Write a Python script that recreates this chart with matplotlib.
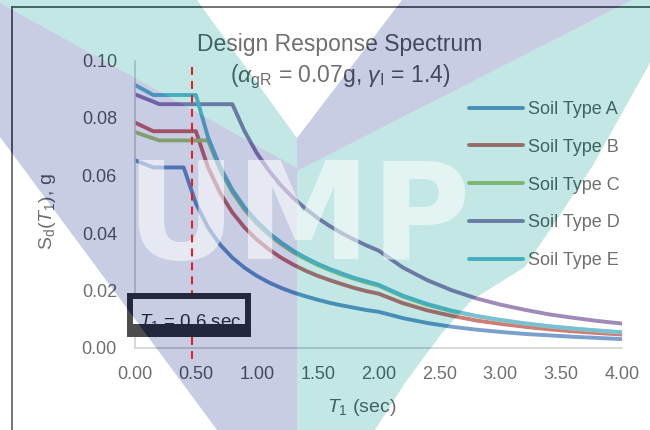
import matplotlib
matplotlib.use('Agg')
import matplotlib.pyplot as plt
import matplotlib.transforms as mtransforms
import numpy as np
from matplotlib import font_manager
from matplotlib.patches import Polygon, Rectangle, PathPatch
from matplotlib.path import Path
from matplotlib.lines import Line2D

# Period values (sec) and spectral accelerations (g)
period = [0, 0.15, 0.2, 0.3, 0.4, 0.5, 0.6, 0.7, 0.8, 0.9, 1.0, 1.1, 1.2, 1.3, 1.4, 1.5,
          1.6, 1.7, 1.8, 1.9, 2.0, 2.2, 2.4, 2.6, 2.8, 3.0, 3.2, 3.4, 3.6, 3.8, 4.0]
soil_a = [0.0653, 0.0628, 0.0628, 0.0628, 0.0628,
          0.0503, 0.0419, 0.0359, 0.0314, 0.0279, 0.0251, 0.0228, 0.0209, 0.0193, 0.0180,
          0.0168, 0.0157, 0.0148, 0.0140, 0.0132, 0.0126,
          0.0104, 0.0087, 0.0074, 0.0064, 0.0056, 0.0049, 0.0044, 0.0039, 0.0035, 0.0031]
soil_b = [0.0784, 0.0754, 0.0754, 0.0754, 0.0754,
          0.0754, 0.0628, 0.0539, 0.0471, 0.0419, 0.0377, 0.0343, 0.0314, 0.0290, 0.0269,
          0.0251, 0.0236, 0.0222, 0.0209, 0.0198, 0.0189,
          0.0156, 0.0131, 0.0112, 0.0096, 0.0084, 0.0074, 0.0065, 0.0058, 0.0052, 0.0047]
soil_c = [0.0751, 0.0729, 0.0722, 0.0722, 0.0722,
          0.0722, 0.0722, 0.0619, 0.0542, 0.0481, 0.0433, 0.0394, 0.0361, 0.0333, 0.0310,
          0.0289, 0.0271, 0.0255, 0.0241, 0.0228, 0.0217,
          0.0179, 0.0150, 0.0128, 0.0111, 0.0096, 0.0085, 0.0075, 0.0067, 0.0060, 0.0054]
soil_d = [0.0882, 0.0857, 0.0848, 0.0848, 0.0848,
          0.0848, 0.0848, 0.0848, 0.0848, 0.0754, 0.0678, 0.0617, 0.0565, 0.0522, 0.0485,
          0.0452, 0.0424, 0.0399, 0.0377, 0.0357, 0.0339,
          0.0280, 0.0236, 0.0201, 0.0173, 0.0151, 0.0133, 0.0117, 0.0105, 0.0094, 0.0085]
soil_e = [0.0915, 0.0880, 0.0880, 0.0880, 0.0880,
          0.0880, 0.0733, 0.0629, 0.0550, 0.0489, 0.0440, 0.0400, 0.0367, 0.0338, 0.0314,
          0.0293, 0.0275, 0.0259, 0.0244, 0.0232, 0.0220,
          0.0182, 0.0153, 0.0130, 0.0112, 0.0098, 0.0086, 0.0076, 0.0068, 0.0061, 0.0055]
series = [soil_a, soil_b, soil_c, soil_d, soil_e]
labels = ['Soil Type A', 'Soil Type B', 'Soil Type C', 'Soil Type D', 'Soil Type E']
colors = ['#4F81BD', '#C0504D', '#9BBB59', '#8064A2', '#4BACC6']

x_ticks = [0, 0.5, 1.0, 1.5, 2.0, 2.5, 3.0, 3.5, 4.0]
y_ticks = [0, 0.02, 0.04, 0.06, 0.08, 0.10]
marked_period = 0.47

# narrow Arial-like face if there is one, otherwise Liberation Sans
names = {f.name for f in font_manager.fontManager.ttflist}
MAIN = 'Liberation Sans Narrow' if 'Liberation Sans Narrow' in names else 'Liberation Sans'
plt.rcParams['font.family'] = [MAIN, 'DejaVu Sans']
plt.rcParams['mathtext.fontset'] = 'custom'
plt.rcParams['mathtext.rm'] = MAIN
plt.rcParams['mathtext.it'] = MAIN + ':italic'
plt.rcParams['mathtext.bf'] = MAIN + ':bold'
TXT = '#404040'

W, H = 650, 430
fig = plt.figure(figsize=(6.5, 4.3), dpi=100)


def fp(x, y):
    # image pixel (top-left origin) -> figure fraction
    return (x / W, 1 - y / H)


ax = fig.add_axes([135 / W, 1 - 348 / H, (622 - 135) / W, (348 - 60.5) / H])
for vals, lab, col in zip(series, labels, colors):
    ax.plot(period, vals, color=col, lw=2.8, label=lab,
            solid_joinstyle='round', solid_capstyle='round')

ax.set_xlim(0, 4)
ax.set_ylim(0, 0.10)
ax.set_xticks(x_ticks)
ax.set_xticklabels(['%.2f' % v for v in x_ticks])
ax.set_yticks(y_ticks)
ax.set_yticklabels(['%.2f' % v for v in y_ticks])
ax.tick_params(length=0, pad=13, labelsize=13, labelcolor=TXT)
for s in ['top', 'right']:
    ax.spines[s].set_visible(False)
for s in ['left', 'bottom']:
    ax.spines[s].set_color('#bfbfbf')
    ax.spines[s].set_linewidth(1.1)
ax.patch.set_alpha(0)

leg = ax.legend(loc='upper left', bbox_to_anchor=fp(469, 101), bbox_transform=fig.transFigure,
                frameon=False, fontsize=13, handlelength=3.0, handletextpad=0.28,
                labelspacing=1.15, borderpad=0, borderaxespad=0)
for t in leg.get_texts():
    t.set_color(TXT)

# titles and axis labels
fig.text(*fp(340, 44), 'Design Response Spectrum', ha='center', va='center',
         fontsize=16.5, color=TXT)
fig.text(*fp(340, 77), r'($\alpha_{\rm gR}$ = 0.07g, $\gamma_{\rm I}$ = 1.4)', ha='center',
         va='center', fontsize=16.5, color=TXT)
fig.text(*fp(47, 212), r'S$_{\rm d}$($T_1$), g', rotation=90, ha='center', va='center',
         fontsize=14, color=TXT)
fig.text(*fp(362, 407), r'$T_1$ (sec)', ha='center', va='center', fontsize=14, color=TXT)

# outer frame
fig.add_artist(Line2D([12 / W, 1], [1 - 7 / H, 1 - 7 / H], color='#262626', lw=1.2, zorder=4))
fig.add_artist(Line2D([12 / W, 12 / W], [0, 1 - 7 / H], color='#262626', lw=1.2, zorder=4))

# annotation box
x0, y0 = fp(127, 337)
x1, y1 = fp(251, 293)
fig.add_artist(Rectangle((x0, y0), x1 - x0, y1 - y0, facecolor='white', edgecolor='none', zorder=3))
fig.text(*fp(190, 327), r'$T_1$ = 0.6 sec', ha='center', va='baseline', fontsize=13.5,
         color='#111111', zorder=3.2)
bx0, by0 = fp(130, 334)
bx1, by1 = fp(248, 296)
fig.add_artist(Rectangle((bx0, by0), bx1 - bx0, by1 - by0, facecolor='none',
                         edgecolor='#111111', lw=4.3, zorder=3.5))
cx0, cy0 = fp(127, 337)
cx1, cy1 = fp(251, 324)
fig.add_artist(Rectangle((cx0, cy0), cx1 - cx0, cy1 - cy0, facecolor='#111111',
                         edgecolor='none', zorder=3.5))

# watermark (UMP logo) overlay
T1 = [(0, 0), (197, 0), (297, 138), (297, 168), (0, 3)]
T2 = [(297, 171), (632, 0), (650, 0), (650, 63), (592, 167), (525, 267), (472, 300),
      (442, 333), (405, 383), (375, 430), (297, 430)]
L1 = [(0, 3), (297, 168), (297, 430), (217, 430), (0, 137)]
L2 = [(297, 138), (402, 0), (632, 0), (297, 171)]


def to_fig(poly):
    return np.array([fp(x, y) for x, y in poly])


def signed_area(a):
    x, y = a[:, 0], a[:, 1]
    return 0.5 * np.sum(x * np.roll(y, -1) - np.roll(x, -1) * y)


for poly, col in [(T1, '#37b2ac'), (T2, '#37b2ac'), (L1, '#4b5ca8'), (L2, '#4b5ca8')]:
    fig.add_artist(Polygon(to_fig(poly), closed=True, facecolor=col, edgecolor='none',
                           alpha=0.3, zorder=5))

verts, codes = [], []
rings = [np.array([(0, 0), (1, 0), (1, 1), (0, 1)], dtype=float)]
for poly in [T1, T2, L1, L2]:
    a = to_fig(poly)
    if signed_area(a) > 0:
        a = a[::-1]
    rings.append(a)
for r in rings:
    verts.extend(r.tolist() + [r[0].tolist()])
    codes.extend([Path.MOVETO] + [Path.LINETO] * (len(r) - 1) + [Path.CLOSEPOLY])
fig.add_artist(PathPatch(Path(verts, codes), facecolor='white', edgecolor='none',
                         alpha=0.25, zorder=5, transform=fig.transFigure))

fig.text(*fp(298, 259), 'UMP', ha='center', va='baseline', fontsize=98,
         fontweight='bold', family='DejaVu Sans', color='white', alpha=0.55, zorder=6)

# marked period line (gap where the box sits)
blend = mtransforms.blended_transform_factory(ax.transData, fig.transFigure)
for ya, yb in [(67, 293), (337, 363)]:
    fig.add_artist(Line2D([marked_period, marked_period], [1 - ya / H, 1 - yb / H],
                          transform=blend, color='#e3202a', lw=1.5, dashes=(3.8, 2.9),
                          zorder=7))

fig.savefig('out.png', dpi=100)
